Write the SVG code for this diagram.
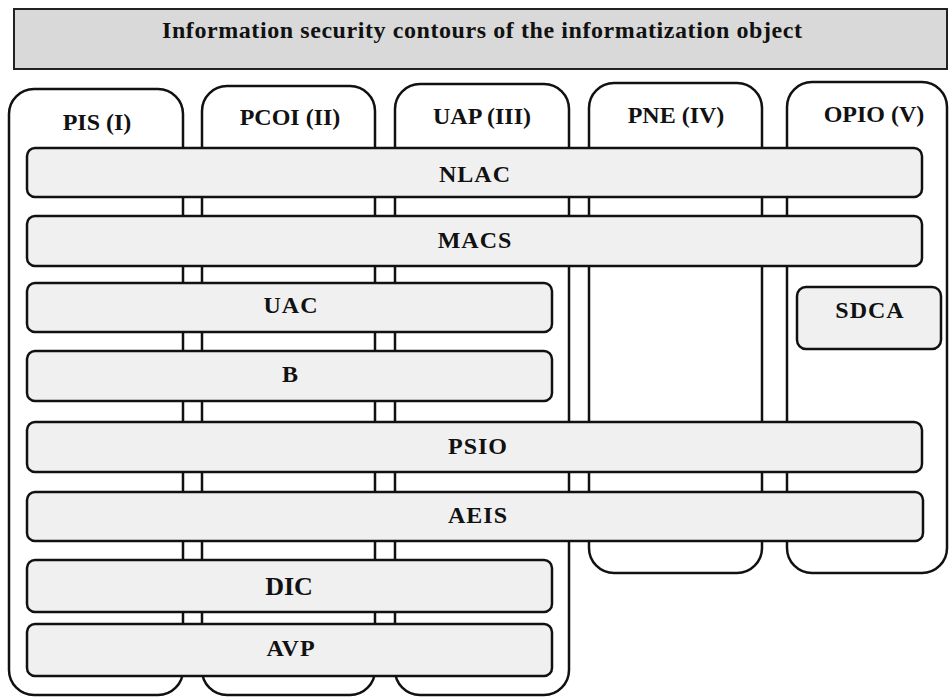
<svg xmlns="http://www.w3.org/2000/svg" width="949" height="698" viewBox="0 0 949 698">
<style>
.col{fill:#ffffff;stroke:#111;stroke-width:2.5}
.bar{fill:#f0f0f0;stroke:#111;stroke-width:2.5}
.ttl{fill:#d9d9d9;stroke:#222;stroke-width:2}
text{font-family:"Liberation Serif","Times New Roman",serif;font-weight:bold;font-size:24px;fill:#111;text-anchor:middle}
.lbl{letter-spacing:1px}
</style>
<rect width="949" height="698" fill="#ffffff"/>
<g id="title">
<rect class="ttl" x="14" y="9" width="933" height="60"/>
<text x="482" y="38" textLength="640" lengthAdjust="spacing">Information security contours of the informatization object</text>
</g>
<g id="col-pis">
<rect class="col" x="9" y="89" width="174" height="606" rx="25"/>
<text x="97" y="130">PIS (I)</text>
</g>
<g id="col-pcoi">
<rect class="col" x="202" y="86" width="173" height="609" rx="25"/>
<text x="290" y="125">PCOI (II)</text>
</g>
<g id="col-uap">
<rect class="col" x="395" y="84" width="174" height="611" rx="25"/>
<text x="482" y="124">UAP (III)</text>
</g>
<g id="col-pne">
<rect class="col" x="589" y="83" width="173" height="490" rx="25"/>
<text x="676" y="123">PNE (IV)</text>
</g>
<g id="col-opio">
<rect class="col" x="787" y="82" width="160" height="491" rx="25"/>
<text x="874" y="122">OPIO (V)</text>
</g>
<g id="nlac">
<rect class="bar" x="27" y="148" width="895" height="49" rx="8"/>
<text class="lbl" x="475" y="182">NLAC</text>
</g>
<g id="macs">
<rect class="bar" x="27" y="216" width="895" height="50" rx="8"/>
<text class="lbl" x="475" y="248">MACS</text>
</g>
<g id="uac">
<rect class="bar" x="27" y="283" width="525" height="49" rx="8"/>
<text class="lbl" x="291" y="313">UAC</text>
</g>
<g id="sdca">
<rect class="bar" x="797" y="287" width="144" height="62" rx="9"/>
<text class="lbl" x="870" y="318">SDCA</text>
</g>
<g id="b">
<rect class="bar" x="27" y="351" width="525" height="50" rx="8"/>
<text x="290" y="382">B</text>
</g>
<g id="psio">
<rect class="bar" x="27" y="422" width="895" height="50" rx="8"/>
<text class="lbl" x="478" y="454">PSIO</text>
</g>
<g id="aeis">
<rect class="bar" x="27" y="492" width="896" height="49" rx="8"/>
<text class="lbl" x="478" y="523">AEIS</text>
</g>
<g id="dic">
<rect class="bar" x="27" y="560" width="525" height="52" rx="8"/>
<text x="289" y="595" style="font-size:26px">DIC</text>
</g>
<g id="avp">
<rect class="bar" x="27" y="624" width="525" height="52" rx="8"/>
<text class="lbl" x="291" y="656">AVP</text>
</g>
</svg>
